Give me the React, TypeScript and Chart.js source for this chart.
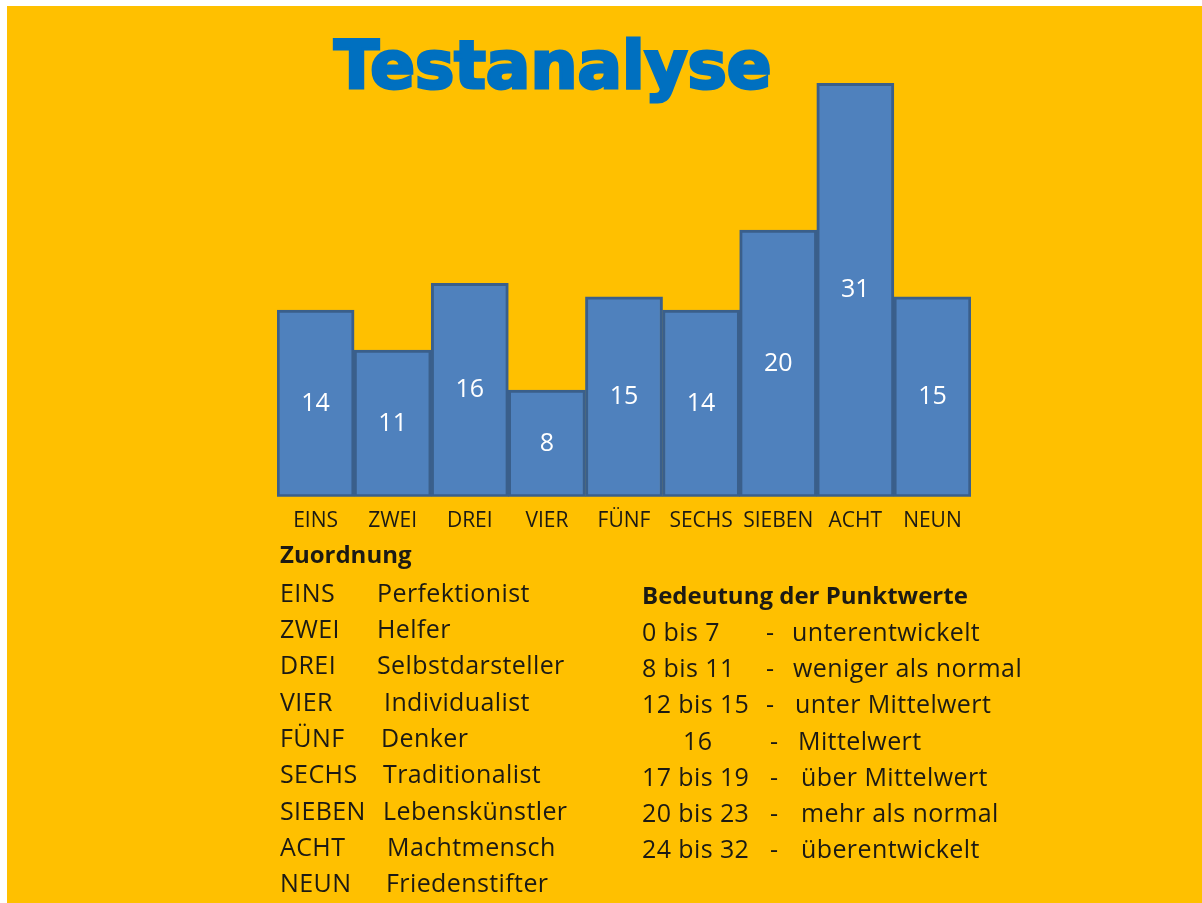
import React, { useEffect, useRef } from "react";
import { Chart, registerables } from "chart.js";

Chart.register(...registerables);

const titleText = "Testanalyse";
const categories = ["EINS", "ZWEI", "DREI", "VIER", "FÜNF", "SECHS", "SIEBEN", "ACHT", "NEUN"];
const scores = [14, 11, 16, 8, 15, 14, 20, 31, 15];
const typeNames = [
  "Perfektionist",
  "Helfer",
  "Selbstdarsteller",
  "Individualist",
  "Denker",
  "Traditionalist",
  "Lebenskünstler",
  "Machtmensch",
  "Friedenstifter",
];
const rangeLabels = ["0 bis 7", "8 bis 11", "12 bis 15", "16", "17 bis 19", "20 bis 23", "24 bis 32"];
const rangeMeanings = [
  "unterentwickelt",
  "weniger als normal",
  "unter Mittelwert",
  "Mittelwert",
  "über Mittelwert",
  "mehr als normal",
  "überentwickelt",
];

const BG = "#FFC000";
const TEXT = "#1c1a14";
const FONT = "'Open Sans', sans-serif";

const valueLabelPlugin = {
  id: "valueLabels",
  afterDatasetsDraw(chart: any) {
    const { ctx } = chart;
    const meta = chart.getDatasetMeta(0);
    ctx.save();
    ctx.fillStyle = "#ffffff";
    ctx.font = "25px 'Open Sans'";
    ctx.textAlign = "center";
    ctx.textBaseline = "middle";
    meta.data.forEach((bar: any, i: number) => {
      const y = (bar.y + bar.base) / 2;
      ctx.fillText(String(chart.data.datasets[0].data[i]), bar.x, y);
    });
    ctx.restore();
  },
};

function Line({ x, base, size, bold, children }: any) {
  // base = baseline y (page coords); Open Sans ascent 1.069em, line box 1.362em
  return (
    <div
      style={{
        position: "absolute",
        left: x,
        top: base - 1.069 * size,
        fontSize: size,
        lineHeight: `${size * 1.362}px`,
        fontFamily: FONT,
        fontWeight: bold ? 700 : 400,
        letterSpacing: bold ? 0 : 0.4,
        color: TEXT,
        whiteSpace: "nowrap",
      }}
    >
      {children}
    </div>
  );
}

export default function App() {
  const canvasRef = useRef<HTMLCanvasElement | null>(null);

  useEffect(() => {
    const canvas = canvasRef.current;
    if (!canvas) return;
    const chart = new Chart(canvas, {
      type: "bar",
      data: {
        labels: categories,
        datasets: [
          {
            data: scores,
            backgroundColor: "#4F81BD",
            borderColor: "#3A5F8B",
            borderWidth: 3,
            borderSkipped: false,
            categoryPercentage: 1,
            barPercentage: 1,
          },
        ],
      },
      options: {
        responsive: false,
        animation: false,
        layout: { padding: { left: 270, right: 231, top: 64, bottom: 357 } },
        scales: {
          x: {
            grid: { display: false, drawTicks: false },
            border: { display: false },
            ticks: {
              color: TEXT,
              font: { family: "'Open Sans'", size: 21 },
              padding: 12,
              maxRotation: 0,
              autoSkip: false,
            },
          },
          y: { display: false, min: 0, max: 32 },
        },
        plugins: {
          legend: { display: false },
          tooltip: { enabled: false },
          title: { display: false },
        },
      },
      plugins: [valueLabelPlugin],
    });
    return () => chart.destroy();
  }, []);

  const rowGap = 36.3;
  const size = 25;

  return (
    <div style={{ position: "fixed", left: 0, top: 0, width: 1202, height: 903, background: "#ffffff", overflow: "hidden" }}>
      <div style={{ position: "absolute", left: 7, top: 6, width: 1195, height: 897, background: BG }} />
      <canvas
        ref={canvasRef}
        width={1195}
        height={897}
        style={{ position: "absolute", left: 7, top: 6, width: 1195, height: 897 }}
      />
      <div
        style={{
          position: "absolute",
          left: 334,
          top: 33,
          fontFamily: "'DejaVu Sans', sans-serif",
          fontWeight: 700,
          fontSize: 66,
          lineHeight: "66px",
          color: "#0070C0",
          WebkitTextStroke: "3px #0070C0",
          whiteSpace: "nowrap",
        }}
      >
        {titleText}
      </div>

      <Line x={280} base={563.3} size={24} bold>
        Zuordnung
      </Line>
      {categories.map((c, i) => (
        <Line key={"c" + i} x={280} base={601.5 + i * rowGap} size={size}>
          {c}
        </Line>
      ))}
      {typeNames.map((n, i) => (
        <Line key={"n" + i} x={[377, 377, 377, 384, 381, 383, 383, 387, 386][i]} base={601.5 + i * rowGap} size={size}>
          {n}
        </Line>
      ))}

      <Line x={642} base={604.3} size={24} bold>
        Bedeutung der Punktwerte
      </Line>
      {rangeLabels.map((r, i) => (
        <Line key={"r" + i} x={i === 3 ? 683 : 642} base={640.7 + i * 36.2} size={size}>
          {r}
        </Line>
      ))}
      {rangeLabels.map((_, i) => (
        <Line key={"d" + i} x={i < 3 ? 766 : 770} base={640.7 + i * 36.2} size={size}>
          -
        </Line>
      ))}
      {rangeMeanings.map((m, i) => (
        <Line key={"m" + i} x={[792, 793, 795, 798, 801, 801, 801][i]} base={640.7 + i * 36.2} size={size}>
          {m}
        </Line>
      ))}
    </div>
  );
}
